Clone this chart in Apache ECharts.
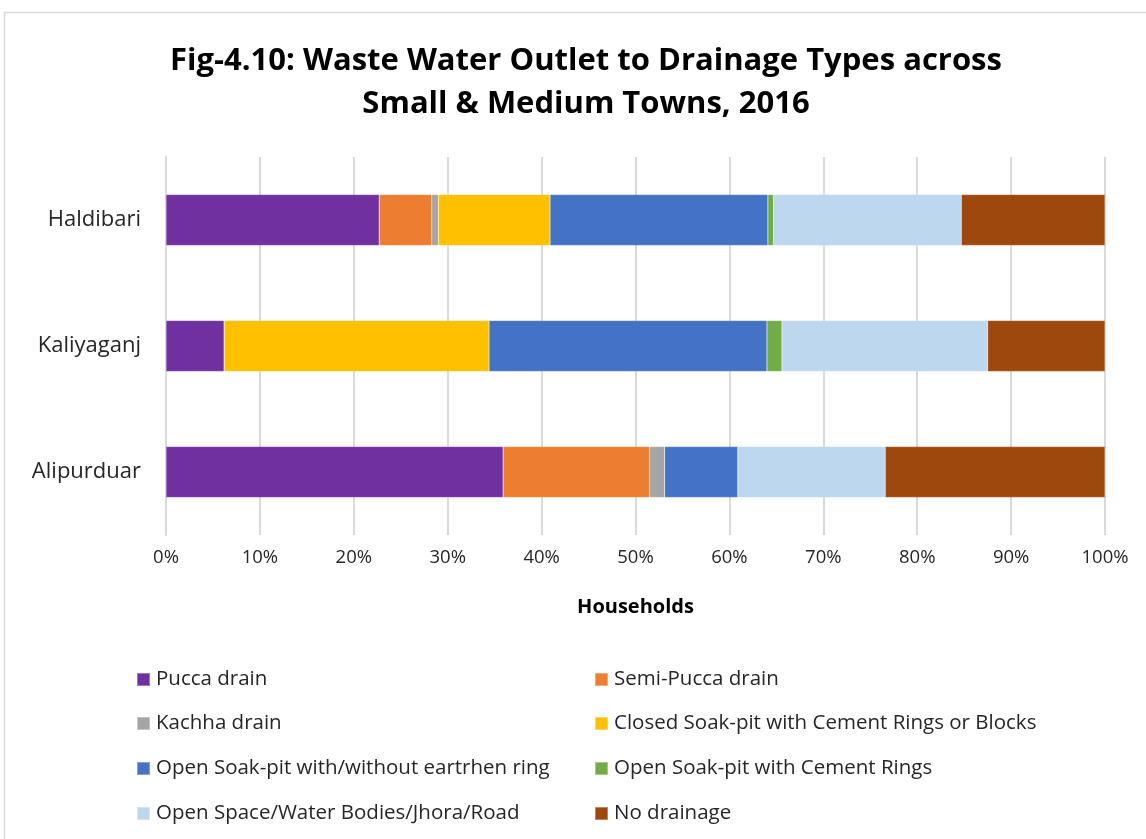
<!DOCTYPE html>
<html>
<head>
<meta charset="utf-8">
<script src="https://cdn.jsdelivr.net/npm/echarts@6/dist/echarts.min.js"></script>
<style>
  html, body { margin: 0; padding: 0; background: #fff; }
  #chart { width: 1146px; height: 839px; }
</style>
</head>
<body>
<div id="chart"></div>
<script>
// Towns, bottom to top on the category axis
const towns = ['Alipurduar', 'Kaliyaganj', 'Haldibari'];

// Share of households (%) by waste-water outlet type, in the order of towns
const puccaDrain      = [35.9, 6.2, 22.7];
const semiPuccaDrain  = [15.6, 0, 5.6];
const kachhaDrain     = [1.6, 0, 0.7];
const closedSoakPit   = [0, 28.2, 11.9];
const openSoakPit     = [7.8, 29.6, 23.2];
const openSoakCement  = [0, 1.6, 0.6];
const openSpace       = [15.7, 21.9, 20.0];
const noDrainage      = [23.4, 12.5, 15.3];

const seriesNames = [
  'Pucca drain', 'Semi-Pucca drain', 'Kachha drain',
  'Closed Soak-pit with Cement Rings or Blocks',
  'Open Soak-pit with/without eartrhen ring', 'Open Soak-pit with Cement Rings',
  'Open Space/Water Bodies/Jhora/Road', 'No drainage'
];
const seriesValues = [puccaDrain, semiPuccaDrain, kachhaDrain, closedSoakPit,
  openSoakPit, openSoakCement, openSpace, noDrainage];
const colors = ['#7030a0', '#ed7d31', '#a5a5a5', '#ffc000',
  '#4472c4', '#70ad47', '#bdd7ee', '#9e480e'];

const FONT = 'Open Sans';

const chart = echarts.init(document.getElementById('chart'), null, { renderer: 'canvas' });

// Two-column legend, one legend block per entry
const legendCols = [136, 594];
const legendRows = [669, 713, 758, 803];
const legends = seriesNames.map((name, i) => ({
  data: [name],
  left: legendCols[i % 2],
  top: legendRows[Math.floor(i / 2)],
  padding: 0,
  itemWidth: 13,
  itemHeight: 13,
  itemGap: 6,
  icon: 'rect',
  selectedMode: false,
  textStyle: { fontFamily: FONT, fontSize: 20.5, color: '#262626', padding: [0, 0, 0, 1] }
}));

chart.setOption({
  animation: false,
  color: colors,
  title: {
    text: 'Fig-4.10: Waste Water Outlet to Drainage Types across\nSmall & Medium Towns, 2016',
    left: 586,
    textAlign: 'center',
    top: 40,
    padding: 0,
    textStyle: { fontFamily: FONT, fontWeight: 'bold', fontSize: 31, lineHeight: 43, color: '#000' }
  },
  graphic: [{
    type: 'rect',
    shape: { x: 4.5, y: 12.5, width: 1300, height: 1000 },
    style: { fill: 'none', stroke: '#d9d9d9', lineWidth: 1.5 },
    silent: true
  }],
  legend: legends,
  grid: { left: 166, right: 41, top: 157, bottom: 304, containLabel: false },
  xAxis: {
    type: 'value',
    min: 0,
    max: 100,
    interval: 10,
    name: 'Households',
    nameLocation: 'middle',
    nameGap: 62,
    nameTextStyle: { fontFamily: FONT, fontWeight: 'bold', fontSize: 20, color: '#000' },
    axisLine: { show: false },
    axisTick: { show: false },
    axisLabel: { formatter: '{value}%', margin: 13, fontFamily: FONT, fontSize: 18.5, color: '#262626' },
    splitLine: { lineStyle: { color: '#d9d9d9', width: 2 } }
  },
  yAxis: {
    type: 'category',
    data: towns,
    axisLine: { show: true, lineStyle: { color: '#d9d9d9', width: 2 } },
    axisTick: { show: false },
    axisLabel: { margin: 25, fontFamily: FONT, fontSize: 22, color: '#262626' }
  },
  series: seriesNames.map((name, i) => ({
    name,
    type: 'bar',
    stack: 'total',
    barWidth: 51,
    data: seriesValues[i],
    itemStyle: { color: colors[i], borderColor: 'rgba(255,255,255,0.35)', borderWidth: 0.5 }
  }))
});
</script>
</body>
</html>
